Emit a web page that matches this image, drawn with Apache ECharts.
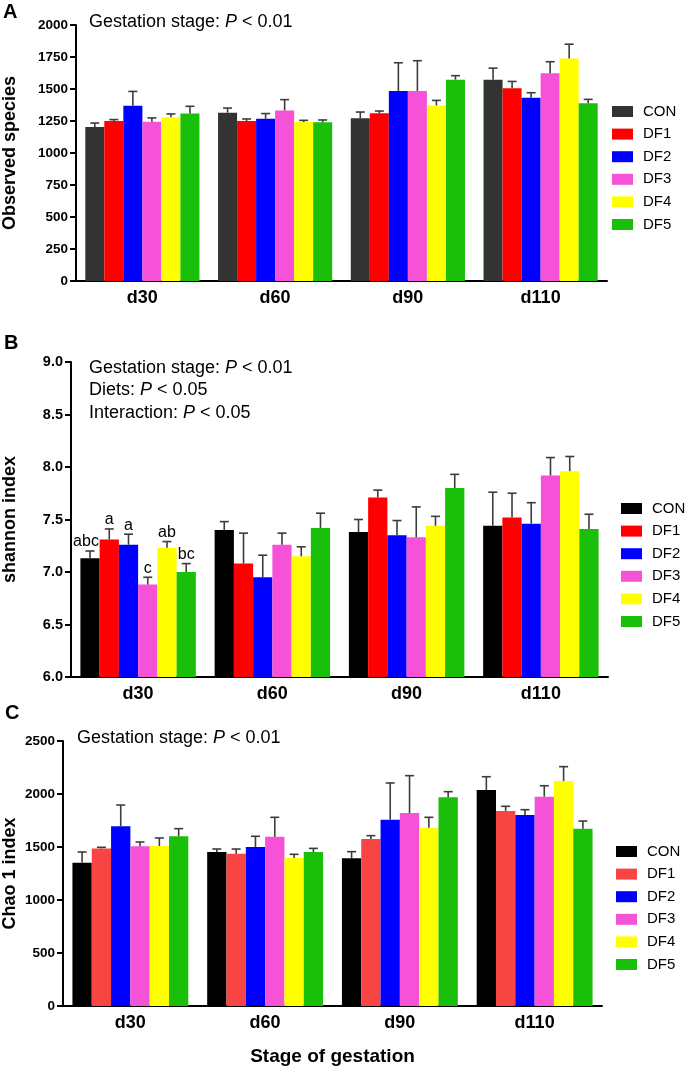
<!DOCTYPE html>
<html>
<head>
<meta charset="utf-8">
<script src="https://cdn.jsdelivr.net/npm/echarts@6/dist/echarts.min.js"></script>
<style>
  html, body { margin: 0; padding: 0; background: #fff; }
  #main { width: 685px; height: 1068px; }
</style>
</head>
<body>
<div id="main"></div>
<script>
// categories / groups
var stages = ['d30', 'd60', 'd90', 'd110'];
var groups = ['CON', 'DF1', 'DF2', 'DF3', 'DF4', 'DF5'];

// A: observed species (mean, SE)
var obsCON = [1203, 1315, 1271, 1573];
var obsDF1 = [1250, 1250, 1310, 1505];
var obsDF2 = [1370, 1268, 1484, 1432];
var obsDF3 = [1245, 1333, 1484, 1624];
var obsDF4 = [1279, 1242, 1372, 1739];
var obsDF5 = [1308, 1240, 1573, 1388];
var obsErrCON = [31, 36, 49, 90];
var obsErrDF1 = [11, 16, 18, 54];
var obsErrDF2 = [111, 40, 221, 39];
var obsErrDF3 = [29, 84, 237, 89];
var obsErrDF4 = [26, 13, 39, 111];
var obsErrDF5 = [57, 18, 31, 31];

// B: shannon index
var shCON = [7.13, 7.40, 7.38, 7.44];
var shDF1 = [7.31, 7.08, 7.71, 7.52];
var shDF2 = [7.26, 6.95, 7.35, 7.46];
var shDF3 = [6.88, 7.26, 7.33, 7.92];
var shDF4 = [7.23, 7.15, 7.44, 7.96];
var shDF5 = [7.00, 7.42, 7.80, 7.41];
var shErrCON = [0.07, 0.08, 0.12, 0.32];
var shErrDF1 = [0.10, 0.29, 0.07, 0.23];
var shErrDF2 = [0.10, 0.21, 0.14, 0.20];
var shErrDF3 = [0.07, 0.11, 0.29, 0.17];
var shErrDF4 = [0.06, 0.09, 0.09, 0.14];
var shErrDF5 = [0.08, 0.14, 0.13, 0.14];
var shLettersD30 = ['abc', 'a', 'a', 'c', 'ab', 'bc'];

// C: Chao 1 index
var chCON = [1352, 1453, 1393, 2038];
var chDF1 = [1487, 1437, 1575, 1840];
var chDF2 = [1695, 1500, 1758, 1802];
var chDF3 = [1506, 1597, 1821, 1975];
var chDF4 = [1509, 1396, 1682, 2123];
var chDF5 = [1601, 1453, 1969, 1673];
var chErrCON = [101, 28, 63, 125];
var chErrDF1 = [10, 44, 32, 44];
var chErrDF2 = [201, 101, 346, 50];
var chErrDF3 = [41, 183, 352, 103];
var chErrDF4 = [76, 35, 98, 135];
var chErrDF5 = [72, 34, 53, 72];

var colorsA = ['#333333', '#ff0000', '#0000ff', '#f552d8', '#ffff00', '#1abf0a'];
var colorsB = ['#000000', '#ff0000', '#0000ff', '#f552d8', '#ffff00', '#1abf0a'];
var colorsC = ['#000000', '#f94444', '#0000ff', '#f552d8', '#ffff00', '#1abf0a'];

var FONT = '"Liberation Sans", Arial, Helvetica, sans-serif';
var CAT_GAP = 0.14;

var myChart = echarts.init(document.getElementById('main'));

function panelSeries(idx, means, errs, colors, letters) {
    var list = [];
    var errData = [];
    for (var g = 0; g < groups.length; g++) {
        list.push({
            type: 'bar',
            name: groups[g],
            xAxisIndex: idx,
            yAxisIndex: idx,
            data: means[g],
            barGap: '0%',
            barCategoryGap: (CAT_GAP * 100) + '%',
            itemStyle: { color: colors[g] },
            silent: true,
            z: 2
        });
        for (var c = 0; c < stages.length; c++) {
            errData.push([c, means[g][c], means[g][c] + errs[g][c], g]);
        }
    }
    // error bars (upper whisker only) + letters
    list.push({
        type: 'custom',
        name: 'err' + idx,
        xAxisIndex: idx,
        yAxisIndex: idx,
        data: errData,
        encode: { x: 0, y: 2 },
        z: 5,
        silent: true,
        renderItem: function (params, api) {
            var c = api.value(0);
            var g = api.value(3);
            var band = api.size([1, 0])[0];
            var barW = band * (1 - CAT_GAP) / groups.length;
            var top = api.coord([c, api.value(2)]);
            var base = api.coord([c, api.value(1)]);
            var x = top[0] + (g - 2.5) * barW;
            var st = { stroke: '#3c3c3c', lineWidth: 1.6 };
            var children = [
                { type: 'line', shape: { x1: x, y1: base[1], x2: x, y2: top[1] }, style: st },
                { type: 'line', shape: { x1: x - 4.5, y1: top[1], x2: x + 4.5, y2: top[1] }, style: st }
            ];
            if (letters && c === 0) {
                children.push({
                    type: 'text',
                    x: x + (g === 0 ? -4 : 0),
                    y: top[1] - 1,
                    style: {
                        text: letters[g],
                        fontSize: 16,
                        fontFamily: FONT,
                        fill: '#000',
                        align: 'center',
                        verticalAlign: 'bottom'
                    }
                });
            }
            return { type: 'group', children: children };
        }
    });
    return list;
}

function xAxisOf(idx, withName) {
    var ax = {
        type: 'category',
        gridIndex: idx,
        data: stages,
        axisLine: { lineStyle: { color: '#000', width: 2 } },
        axisTick: { alignWithLabel: true, length: 5, lineStyle: { color: '#000', width: 2 } },
        axisLabel: { color: '#000', fontSize: 18, fontWeight: 'bold', fontFamily: FONT, margin: 8 }
    };
    if (withName) {
        ax.name = 'Stage of gestation';
        ax.nameLocation = 'middle';
        ax.nameGap = 41;
        ax.nameMoveOverlap = false;
        ax.nameTextStyle = { color: '#000', fontSize: 19, fontWeight: 'bold', fontFamily: FONT };
    }
    return ax;
}

function yAxisOf(idx, name, min, max, step, gap, labelSize, digits) {
    return {
        type: 'value',
        gridIndex: idx,
        min: min,
        max: max,
        interval: step,
        name: name,
        nameLocation: 'middle',
        nameGap: gap,
        nameMoveOverlap: false,
        nameTextStyle: { color: '#000', fontSize: 18, fontWeight: 'bold', fontFamily: FONT },
        axisLine: { show: true, lineStyle: { color: '#000', width: 2 } },
        axisTick: { show: true, length: 6, lineStyle: { color: '#000', width: 2 } },
        splitLine: { show: false },
        axisLabel: {
            color: '#000', fontSize: labelSize, fontWeight: 'bold', fontFamily: FONT, margin: 8,
            formatter: function (v) { return digits ? v.toFixed(digits) : String(v); }
        }
    };
}

function legendOf(left, top, colors) {
    return {
        orient: 'vertical',
        left: left,
        top: top,
        itemWidth: 21,
        itemHeight: 11,
        itemGap: 7.6,
        selectedMode: false,
        icon: 'rect',
        textStyle: { color: '#000', fontSize: 15, lineHeight: 15, fontFamily: FONT, padding: [0, 0, 0, 5] },
        data: groups.map(function (n, i) { return { name: n, itemStyle: { color: colors[i] } }; })
    };
}

function pText(left, top, prefix, tail) {
    return {
        type: 'text',
        left: left,
        top: top,
        style: {
            text: '{n|' + prefix + '}{i|P}{n|' + tail + '}',
            rich: {
                n: { fontSize: 18, fontFamily: FONT, fill: '#000' },
                i: { fontSize: 18, fontFamily: FONT, fontStyle: 'italic', fill: '#000' }
            }
        }
    };
}

function letter(t, left, top) {
    return {
        type: 'text', left: left, top: top,
        style: { text: t, fontSize: 20, fontWeight: 'bold', fontFamily: FONT, fill: '#000' }
    };
}

var series = []
    .concat(panelSeries(0,
        [obsCON, obsDF1, obsDF2, obsDF3, obsDF4, obsDF5],
        [obsErrCON, obsErrDF1, obsErrDF2, obsErrDF3, obsErrDF4, obsErrDF5], colorsA, null))
    .concat(panelSeries(1,
        [shCON, shDF1, shDF2, shDF3, shDF4, shDF5],
        [shErrCON, shErrDF1, shErrDF2, shErrDF3, shErrDF4, shErrDF5], colorsB, shLettersD30))
    .concat(panelSeries(2,
        [chCON, chDF1, chDF2, chDF3, chDF4, chDF5],
        [chErrCON, chErrDF1, chErrDF2, chErrDF3, chErrDF4, chErrDF5], colorsC, null));

var option = {
    animation: false,
    backgroundColor: '#fff',
    grid: [
        { left: 76, right: 78, top: 25, bottom: 787, containLabel: false, outerBoundsMode: 'none' },
        { left: 71, right: 77, top: 362, bottom: 391, containLabel: false, outerBoundsMode: 'none' },
        { left: 63, right: 83, top: 741, bottom: 62, containLabel: false, outerBoundsMode: 'none' }
    ],
    xAxis: [xAxisOf(0, false), xAxisOf(1, false), xAxisOf(2, true)],
    yAxis: [
        yAxisOf(0, 'Observed species', 0, 2000, 250, 57, 13.5, 0),
        yAxisOf(1, 'shannon index', 6, 9, 0.5, 52, 14.5, 1),
        yAxisOf(2, 'Chao 1 index', 0, 2500, 500, 44, 13.5, 0)
    ],
    legend: [
        legendOf(607, 99, colorsA),
        legendOf(616, 496, colorsB),
        legendOf(611, 839, colorsC)
    ],
    graphic: [
        letter('A', 3, 2),
        letter('B', 4, 333),
        letter('C', 5, 703),
        pText(89, 13, 'Gestation stage: ', ' < 0.01'),
        pText(89, 359, 'Gestation stage: ', ' < 0.01'),
        pText(89, 381, 'Diets: ', ' < 0.05'),
        pText(89, 404, 'Interaction: ', ' < 0.05'),
        pText(77, 729, 'Gestation stage: ', ' < 0.01')
    ],
    series: series
};

myChart.setOption(option);
</script>
</body>
</html>
